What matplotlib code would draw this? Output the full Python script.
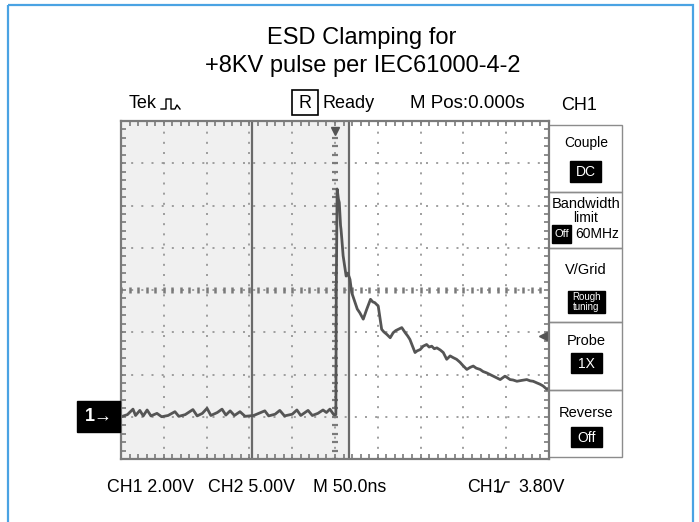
import numpy as np
import matplotlib
matplotlib.use("Agg")
import matplotlib.pyplot as plt
from matplotlib.patches import Rectangle
from matplotlib.ticker import MultipleLocator

plt.rcParams['font.family'] = ['Liberation Sans', 'DejaVu Sans']

# ---------------- data ----------------
title_lines = ["ESD Clamping for", "+8KV pulse per IEC61000-4-2"]
ch1_volts_per_div = 2.0      # V / div
time_per_div = 50.0          # ns / div
trigger_level = 3.80         # V
trigger_pos = 0.0            # ns
cursor_times = [-97.5, 16.5]  # ns

# baseline before the ESD event (ns, V)
base_t = [-250, -242.5, -236, -233, -228, -224, -219.5, -215, -208, -202.5,
          -195, -187, -182.5, -175, -166, -161, -155, -149.5, -145, -137.5,
          -132, -127.5, -122.5, -117.5, -111, -105, -95, -82, -77.5, -70,
          -64.5, -59, -50, -44.5, -40, -31.5, -26.5, -20, -14, -10, -6, -1.5, 1]
base_v = [0.0, 0.10, 0.36, 0.06, 0.30, 0.04, 0.32, 0.04, 0.16, 0.0,
          0.06, 0.24, 0.02, 0.10, 0.34, 0.04, 0.16, 0.40, 0.06, 0.20,
          0.36, 0.08, 0.28, 0.06, 0.24, 0.02, 0.06, 0.28, 0.04, 0.12,
          0.30, 0.04, 0.12, 0.32, 0.06, 0.30, 0.06, 0.16, 0.32, 0.20, 0.36, 0.10, 0.10]
# clamped pulse (ns, V)
pulse_t = [1.5, 2.5, 4, 5, 6.5, 7, 8, 9.5, 13, 15, 17.5, 19.5, 23.5, 26, 29, 33,
           37, 41.5, 44, 46.5, 50.5, 54.5, 57, 60.5, 64.5, 68, 71, 74, 78, 82,
           85, 87.5, 90, 93.5, 96, 99.5, 103, 107, 110, 113, 116, 119, 123,
           126.5, 130.5, 134.5, 138, 142, 146, 150, 154, 158, 161.5, 165, 169.5,
           173, 177, 181, 185, 189, 193, 198.5, 201, 204.5, 208, 212.5, 218, 224,
           228, 231.5, 236, 239.5, 243, 247.5, 250]
pulse_v = [6.0, 10.78, 10.30, 10.14, 9.04, 8.88, 8.40, 7.62, 6.66, 6.80, 6.50,
           5.88, 5.40, 5.10, 4.92, 4.62, 5.08, 5.56, 5.44, 5.40, 5.24, 4.14,
           4.02, 3.90, 3.74, 3.98, 4.08, 4.14, 4.22, 3.98, 3.82, 3.66, 3.40,
           3.04, 3.12, 3.18, 3.34, 3.42, 3.30, 3.34, 3.22, 3.26, 3.16, 3.04,
           2.72, 2.88, 2.80, 2.72, 2.58, 2.40, 2.24, 2.34, 2.40, 2.30, 2.24,
           2.14, 2.08, 2.00, 1.92, 1.84, 1.76, 1.92, 1.86, 1.76, 1.74, 1.68,
           1.72, 1.76, 1.70, 1.68, 1.60, 1.54, 1.46, 1.30, 1.36]

header_left = "Tek"
header_mid = ["R", "Ready", "M Pos:0.000s", "CH1"]
footer = ["CH1 2.00V", "CH2 5.00V", "M 50.0ns", "CH1", "3.80V"]
menu_titles = ["Couple", "Bandwidth\nlimit", "V/Grid", "Probe", "Reverse"]
menu_values = ["DC", "Off", "Rough\ntuning", "1X", "Off"]

# ---------------- figure ----------------
W, H = 699, 522
fig = plt.figure(figsize=(W / 100, H / 100), dpi=100)
fig.patch.set_facecolor('white')

deco = fig.add_axes([0, 0, 1, 1])
deco.set_xlim(0, W)
deco.set_ylim(H, 0)
deco.axis('off')

# blue frame
deco.add_patch(Rectangle((8, 5), 685, 530, fill=False, edgecolor='#4aa3e3', lw=1.6))

# title
deco.text(362, 38, title_lines[0], ha='center', va='center', fontsize=17)
deco.text(363, 66, title_lines[1], ha='center', va='center', fontsize=17)

# header
deco.text(129, 104, header_left, ha='left', va='center', fontsize=13)
deco.plot([161, 166, 166, 171, 171, 175, 177, 180], [109, 109, 99, 99, 109, 109, 105, 109],
          color='black', lw=1.0)
deco.add_patch(Rectangle((292, 90), 26, 25, fill=False, edgecolor='black', lw=1.2))
deco.text(305, 103, header_mid[0], ha='center', va='center', fontsize=13)
deco.text(323, 103, header_mid[1], ha='left', va='center', fontsize=13)
deco.text(410, 103, header_mid[2], ha='left', va='center', fontsize=13.5)
deco.text(561, 105, header_mid[3], ha='left', va='center', fontsize=13)

# footer
fy = 487
deco.text(107, fy, footer[0], ha='left', va='center', fontsize=12.8)
deco.text(208, fy, footer[1], ha='left', va='center', fontsize=12.8)
deco.text(313, fy, footer[2], ha='left', va='center', fontsize=12.8)
deco.text(467, fy, footer[3], ha='left', va='center', fontsize=12.8)
deco.plot([497, 501, 505, 509], [492, 492, 482, 482], color='black', lw=1.0)
deco.text(518, fy, footer[4], ha='left', va='center', fontsize=12.8)

# right menu panel
px0, px1 = 548, 622
dividers = [125, 192, 248, 322, 390, 457]
for i in range(len(dividers) - 1):
    deco.add_patch(Rectangle((px0, dividers[i]), px1 - px0, dividers[i + 1] - dividers[i],
                             fill=False, edgecolor='#8c8c8c', lw=1.0))
deco.text(586, 143, menu_titles[0], ha='center', va='center', fontsize=10)
deco.add_patch(Rectangle((570, 161), 31, 21, color='black'))
deco.text(586, 172, menu_values[0], ha='center', va='center', fontsize=10, color='white')

deco.text(586, 204, "Bandwidth", ha='center', va='center', fontsize=10.5)
deco.text(586, 218, "limit", ha='center', va='center', fontsize=10)
deco.add_patch(Rectangle((552, 225), 19, 18, color='black'))
deco.text(561.5, 234, menu_values[1], ha='center', va='center', fontsize=8, color='white')
deco.text(597, 234, "60MHz", ha='center', va='center', fontsize=10)

deco.text(586, 270, menu_titles[2], ha='center', va='center', fontsize=10.5)
deco.add_patch(Rectangle((568, 291), 37, 22, color='black'))
deco.text(586.5, 297, "Rough", ha='center', va='center', fontsize=7, color='white')
deco.text(586.5, 307.5, "tuning", ha='center', va='center', fontsize=7, color='white')

deco.text(586, 341, menu_titles[3], ha='center', va='center', fontsize=10.5)
deco.add_patch(Rectangle((571, 353), 31, 20, color='black'))
deco.text(586.5, 363.5, menu_values[3], ha='center', va='center', fontsize=10, color='white')

deco.text(586, 413, menu_titles[4], ha='center', va='center', fontsize=10.5)
deco.add_patch(Rectangle((571, 427), 31, 20, color='black'))
deco.text(586.5, 437.5, menu_values[4], ha='center', va='center', fontsize=10, color='white')

# ---------------- scope screen ----------------
x0, x1, y0, y1 = 121, 549, 121, 459
ax = fig.add_axes([x0 / W, (H - y1) / H, (x1 - x0) / W, (y1 - y0) / H])
ax.set_xlim(-5 * time_per_div, 5 * time_per_div)
ground_div = -3
ax.set_ylim((-4 - ground_div) * ch1_volts_per_div, (4 - ground_div) * ch1_volts_per_div)
ax.set_facecolor('white')

ax.axvspan(-5 * time_per_div, cursor_times[1], color='#f0f0f0', zorder=0, lw=0)

ax.xaxis.set_major_locator(MultipleLocator(time_per_div))
ax.yaxis.set_major_locator(MultipleLocator(ch1_volts_per_div))
ax.xaxis.set_minor_locator(MultipleLocator(time_per_div / 5))
ax.yaxis.set_minor_locator(MultipleLocator(ch1_volts_per_div / 5))
ax.tick_params(which='both', direction='in', top=True, right=True, length=3.5, width=1.2,
               color='#7a7a7a', labelbottom=False, labelleft=False)
ax.grid(which='major', color='#8f8f8f', linestyle=(0, (1.2, 4.9)), lw=1.2)
for s in ax.spines.values():
    s.set_color('#7a7a7a')
    s.set_linewidth(1.6)

center_v = ground_div * -ch1_volts_per_div
tt = np.arange(-5 * time_per_div, 5 * time_per_div + 0.1, time_per_div / 5)
vv = np.arange(ax.get_ylim()[0], ax.get_ylim()[1] + 0.01, ch1_volts_per_div / 5)
ax.plot(tt, np.full_like(tt, center_v), ls='none', marker='|', ms=5, mew=1.8, color='#7a7a7a')
ax.plot(np.zeros_like(vv), vv, ls='none', marker='_', ms=5, mew=1.6, color='#7a7a7a')

for ct in cursor_times:
    ax.axvline(ct, color='#6a6a6a', lw=1.6)

ax.plot(base_t + pulse_t, base_v + pulse_v, color='#555555', lw=2.0, solid_joinstyle='round')

# markers: trigger position, trigger level, channel ground
ax.plot([trigger_pos], [ax.get_ylim()[1] - 0.45], marker='v', ms=6, color='#555555')
ax.plot([243], [trigger_level], marker='<', ms=6, color='#555555')
ax.text(-0.02, 0.0, "1\u2192", transform=ax.get_yaxis_transform(), ha='right', va='center',
        fontsize=13, color='white', fontweight='bold',
        bbox=dict(boxstyle='square,pad=0.4', facecolor='black', edgecolor='black'))

fig.savefig('out.png', dpi=100, facecolor='white')
